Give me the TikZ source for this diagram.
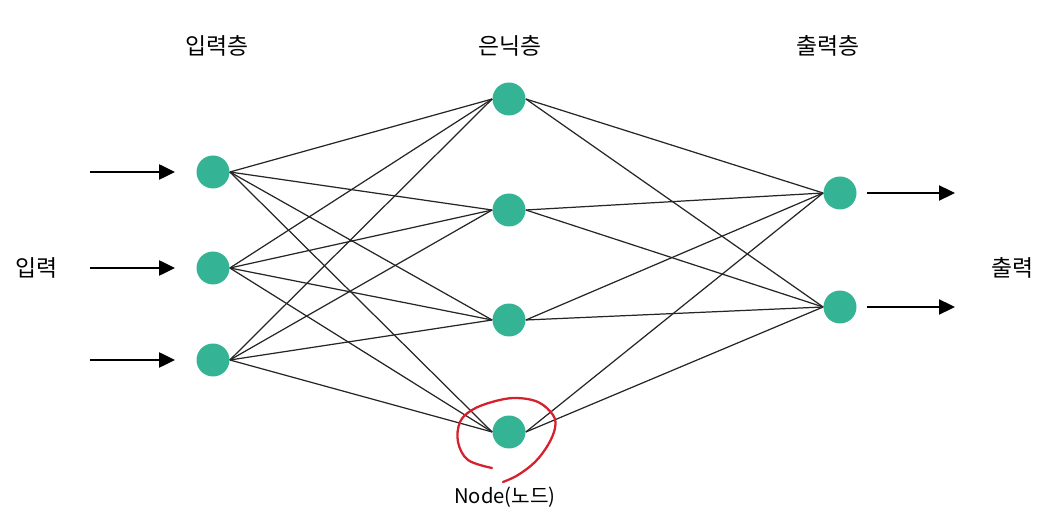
\documentclass[tikz,border=0pt]{standalone}
\usepackage{fontspec}
\setmainfont{Noto Sans CJK KR}
\usetikzlibrary{arrows.meta,positioning,calc}
\definecolor{zold}{RGB}{52,180,148}
\definecolor{piros}{RGB}{214,32,44}
\tikzset{
  neuron/.style={circle,fill=zold,minimum size=0.66cm,inner sep=0pt},
  kapcsolat/.style={black!85,line width=0.7pt},
  nyil/.style={-{Triangle[length=3.2mm,width=3mm]},line width=1.3pt},
  felirat/.style={font=\fontsize{13}{15}\selectfont,inner sep=0pt},
}
\begin{document}
\begin{tikzpicture}[x=0.02cm,y=-0.02cm]
  \useasboundingbox (0,0) rectangle (1041,526);
  % retegek
  \node[neuron] (I1) at (213,172) {};
  \node[neuron] (I2) at (213,268) {};
  \node[neuron] (I3) at (213,360) {};
  \node[neuron] (H1) at (509,99) {};
  \node[neuron] (H2) at (509,210) {};
  \node[neuron] (H3) at (509,320) {};
  \node[neuron] (H4) at (509,432) {};
  \node[neuron] (O1) at (840,193) {};
  \node[neuron] (O2) at (840,307) {};
  % feliratok
  \node[felirat] (t1) at (217,46) {입력층};
  \node[felirat] (t2) at (510,46) {은닉층};
  \node[felirat] (t3) at (828,46) {출력층};
  \node[felirat] (be) at (37,268) {입력};
  \node[felirat] (ki) at (1012,268) {출력};
  \node[font=\fontsize{11.5}{13}\selectfont,inner sep=0pt] (nd) at (505,497) {Node(노드)};
  % kapcsolatok
  \foreach \i in {1,2,3}
    \foreach \h in {1,2,3,4}
      \draw[kapcsolat] (I\i.east) -- (H\h.west);
  \foreach \h in {1,2,3,4}
    \foreach \o in {1,2}
      \draw[kapcsolat] (H\h.east) -- (O\o.west);
  % be- es kimenetek
  \foreach \i/\y in {1/172,2/268,3/360}
    \coordinate (a\i) at (90,\y);
  \foreach \i in {1,2,3}
    \draw[nyil] (a\i) -- ([xshift=-12]I\i.west);
  \coordinate (b1) at (955,193);
  \coordinate (b2) at (955,307);
  \foreach \o in {1,2}
    \draw[nyil] ([xshift=6]O\o.east) -- (b\o);
  % kiemeles
  \draw[piros,line width=1.3pt,line cap=round] plot[smooth,tension=0.6] coordinates {
    (492,468) (468,460) (458,442) (460,422) (472,410) (492,402) (515,398)
    (538,402) (553,415) (555,428) (548,445) (535,462) (518,475) (503,482)};
\end{tikzpicture}
\end{document}
